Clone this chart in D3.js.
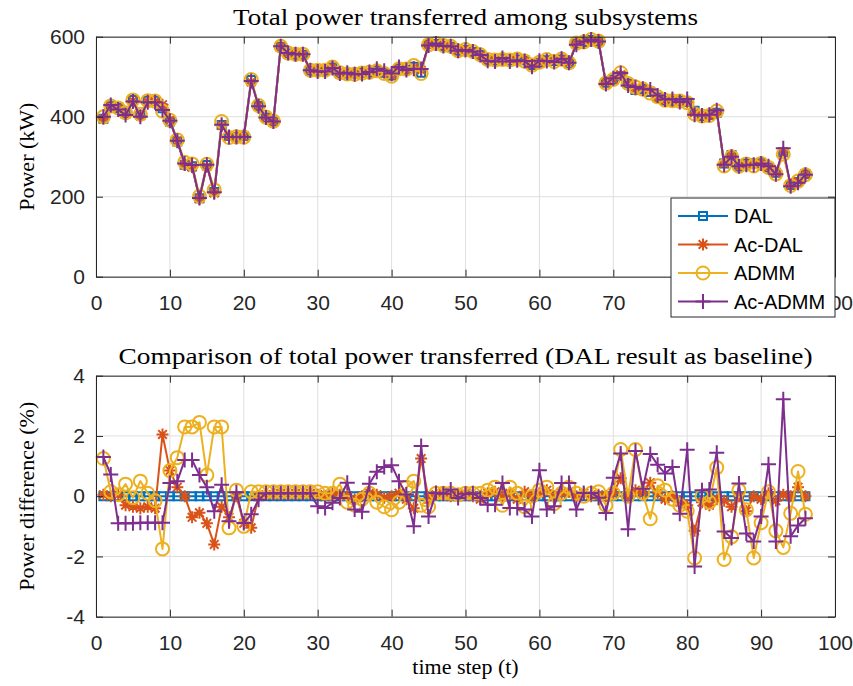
<!DOCTYPE html>
<html>
<head>
<meta charset="utf-8">
<script src="https://cdn.jsdelivr.net/npm/d3@7"></script>
<style>
  body { margin: 0; background: #fff; }
  svg { display: block; }
</style>
</head>
<body>
<div id="root"><svg width="853" height="686"></svg></div>
<script>
const timeSteps = d3.range(1, 97);

const seriesNames = ['DAL', 'Ac-DAL', 'ADMM', 'Ac-ADMM'];
const xTicks = [0, 10, 20, 30, 40, 50, 60, 70, 80, 90, 100];
const powerTicks = [0, 200, 400, 600];
const diffTicks = [-4, -2, 0, 2, 4];

// total power transferred (kW)
const powerDAL = [395, 426, 422, 408, 442, 404, 440, 440, 421, 388, 338, 280, 276, 196, 279, 212, 379, 352, 349, 352,
  492, 427, 398, 388, 575, 558, 555, 555, 515, 515, 515, 523, 508, 508, 508, 510, 510, 516, 510, 503,
  521, 517, 525, 510, 582, 582, 577, 575, 565, 567, 562, 554, 542, 540, 545, 540, 543, 541, 529, 535,
  541, 539, 543, 533, 583, 587, 592, 588, 485, 493, 502, 483, 467, 469, 462, 448, 440, 440, 440, 437,
  415, 402, 404, 410, 283, 304, 275, 283, 283, 285, 273, 260, 311, 229, 237, 257];
const powerAcDAL = [395, 426, 422, 407, 440, 402, 438, 438, 430, 391, 339, 280, 274, 195, 276, 209, 378, 350, 349, 349,
  487, 427, 398, 388, 576, 558, 556, 555, 516, 515, 515, 524, 508, 508, 507, 510, 511, 516, 510, 503,
  522, 516, 523, 516, 581, 582, 578, 575, 565, 568, 562, 553, 543, 541, 545, 541, 542, 542, 529, 536,
  542, 539, 544, 534, 583, 588, 592, 588, 485, 493, 505, 483, 468, 469, 464, 448, 440, 440, 439, 436,
  410, 401, 403, 410, 283, 303, 275, 282, 283, 285, 273, 260, 311, 229, 238, 257];
const powerADMM = [400, 427, 422, 410, 442, 406, 440, 439, 414, 391, 342, 286, 282, 201, 281, 217, 388, 348, 350, 349,
  493, 428, 399, 389, 576, 559, 556, 556, 516, 516, 516, 524, 510, 507, 506, 509, 511, 515, 508, 501,
  520, 519, 528, 508, 580, 583, 578, 576, 565, 568, 563, 555, 543, 542, 543, 542, 544, 539, 529, 536,
  543, 538, 544, 535, 584, 587, 593, 589, 484, 493, 510, 483, 474, 469, 459, 450, 441, 440, 439, 435,
  407, 402, 403, 414, 277, 300, 276, 282, 277, 283, 273, 257, 306, 228, 239, 255];
const powerAcADMM = [400, 429, 418, 404, 438, 400, 436, 436, 417, 390, 340, 283, 279, 197, 280, 211, 380, 349, 349, 349,
  489, 426, 398, 388, 576, 559, 556, 556, 516, 513, 513, 522, 508, 510, 506, 507, 512, 520, 515, 508,
  524, 517, 520, 519, 578, 583, 577, 576, 565, 567, 563, 554, 540, 538, 547, 538, 541, 539, 525, 540,
  539, 537, 545, 535, 580, 588, 593, 588, 482, 496, 509, 478, 474, 470, 468, 453, 443, 444, 437, 444,
  405, 403, 405, 416, 280, 300, 276, 280, 279, 283, 276, 256, 321, 226, 235, 255];

// power difference against DAL (%)
const diffDAL = [0, 0, 0, 0, 0, 0, 0, 0, 0, 0, 0, 0, 0, 0, 0, 0, 0, 0, 0, 0,
  0, 0, 0, 0, 0, 0, 0, 0, 0, 0, 0, 0, 0, 0, 0, 0, 0, 0, 0, 0,
  0, 0, 0, 0, 0, 0, 0, 0, 0, 0, 0, 0, 0, 0, 0, 0, 0, 0, 0, 0,
  0, 0, 0, 0, 0, 0, 0, 0, 0, 0, 0, 0, 0, 0, 0, 0, 0, 0, 0, 0,
  0, 0, 0, 0, 0, 0, 0, 0, 0, 0, 0, 0, 0, 0, 0, 0];
const diffAcDAL = [0.05, 0, 0.05, -0.3, -0.35, -0.4, -0.35, -0.4, 2.05, 0.85, 0.3, 0, -0.7, -0.55, -0.9, -1.6, -0.35, -0.7, 0, -0.9,
  -1.05, 0, 0.05, 0.05, 0.1, 0.05, 0.1, 0.05, 0.1, 0.05, 0, 0.1, 0.05, 0, -0.1, 0, 0.1, 0.05, -0.05, 0,
  0.1, -0.1, -0.4, 1.25, -0.1, 0.05, 0.1, 0, 0.05, 0.1, 0, -0.1, 0.1, 0.15, 0, 0.1, -0.1, 0.15, 0, 0.1,
  0.2, 0, 0.1, 0.15, 0, 0.1, 0, 0.05, 0, 0.1, 0.6, 0, 0.2, 0.1, 0.45, 0.1, -0.1, 0, -0.2, -0.3,
  -1.15, -0.2, -0.3, -0.1, -0.15, -0.35, 0, -0.5, 0, -0.1, 0.1, -0.15, 0.05, 0, 0.3, 0];
const diffADMM = [1.25, 0.15, 0.05, 0.4, -0.05, 0.5, 0.1, -0.15, -1.75, 0.85, 1.28, 2.3, 2.3, 2.45, 0.7, 2.3, 2.3, -1.05, 0.2, -1.0,
  0.15, 0.15, 0.15, 0.15, 0.15, 0.15, 0.15, 0.15, 0.15, 0.15, 0.1, 0.1, 0.4, -0.2, -0.3, -0.1, 0.1, -0.2, -0.35, -0.45,
  -0.2, 0.3, 0.5, -0.3, -0.35, 0.1, 0.1, 0.1, 0.05, 0.1, 0.1, 0.1, 0.2, 0.3, -0.3, 0.3, 0.1, -0.35, 0, 0.2,
  0.3, -0.25, 0.1, 0.3, 0.1, 0, 0.1, 0.15, -0.3, 0.1, 1.55, 0, 1.55, 0.1, -0.75, 0.35, 0.2, -0.1, -0.3, -0.5,
  -2.05, 0, -0.2, 0.95, -2.1, -1.35, 0.2, -0.45, -2.05, -0.88, 0.15, -1.15, -1.7, -0.57, 0.82, -0.6];
const diffAcADMM = [1.3, 0.72, -0.9, -0.9, -0.9, -0.88, -0.88, -0.88, -0.88, 0.44, 0.5, 1.2, 1.2, 0.7, 0.3, -0.5, 0.38, -0.83, 0.13, -0.89,
  -0.6, -0.12, 0.1, 0.1, 0.1, 0.1, 0.1, 0.1, 0.1, -0.33, -0.39, -0.22, -0.06, 0.45, -0.44, -0.52, 0.41, 0.81, 0.97, 1.03,
  0.5, 0.06, -1.0, 1.67, -0.67, 0.11, 0.08, 0.22, -0.06, 0.08, 0.1, -0.06, -0.28, -0.28, 0.44, -0.39, -0.39, -0.44, -0.67, 0.86,
  -0.44, -0.33, 0.44, 0.44, -0.44, 0.11, 0.11, -0.05, -0.56, 0.61, 1.42, -1.1, 1.5, 0.25, 1.4, 1.04, 0.75, 0.97, -0.58, 1.54,
  -2.33, 0.2, 0.22, 1.44, -1.17, -1.39, 0.42, -1.24, -1.5, -0.67, 1.06, -1.5, 3.22, -1.33, -0.97, -0.73];

const colors = ['#0072bd', '#d95319', '#edb120', '#7e2f8e'];
const textColor = '#262626';
const serif = '"Liberation Serif", "DejaVu Serif", serif';
const sans = '"Liberation Sans", Arial, sans-serif';

// marker shapes, one per series
const markerPaths = [
  'M-4,-4H4V4H-4Z',
  'M-6,0H6M0,-6V6M-4.3,-4.3L4.3,4.3M-4.3,4.3L4.3,-4.3',
  'M6.5,0A6.5,6.5 0 1,1 -6.5,0A6.5,6.5 0 1,1 6.5,0Z',
  'M-7.5,0H7.5M0,-7.5V7.5'
];

const svg = d3.select('#root svg');
const plotLeft = 96;
const plotRight = 835;
const xScale = d3.scaleLinear().domain([0, 100]).range([plotLeft, plotRight]);

function drawPanel(opts) {
  const yScale = d3.scaleLinear().domain(opts.domain).range([opts.bottom, opts.top]);
  const g = svg.append('g');

  // grid
  g.append('g').selectAll('line').data(xTicks).enter().append('line')
    .attr('x1', d => xScale(d)).attr('x2', d => xScale(d))
    .attr('y1', opts.top).attr('y2', opts.bottom)
    .attr('stroke', '#dfdfdf').attr('stroke-width', 1);
  g.append('g').selectAll('line').data(opts.ticks).enter().append('line')
    .attr('x1', plotLeft).attr('x2', plotRight)
    .attr('y1', d => yScale(d)).attr('y2', d => yScale(d))
    .attr('stroke', '#dfdfdf').attr('stroke-width', 1);

  // series
  const line = d3.line().x((d, i) => xScale(timeSteps[i])).y(d => yScale(d));
  opts.series.forEach((values, s) => {
    const sg = g.append('g');
    sg.append('path')
      .attr('d', line(values))
      .attr('fill', 'none')
      .attr('stroke', colors[s])
      .attr('stroke-width', 2)
      .attr('stroke-linejoin', 'round');
    sg.selectAll('path.mk').data(values).enter().append('path')
      .attr('class', 'mk')
      .attr('transform', (d, i) => `translate(${xScale(timeSteps[i])},${yScale(d)})`)
      .attr('d', markerPaths[s])
      .attr('fill', 'none')
      .attr('stroke', colors[s])
      .attr('stroke-width', 2);
  });

  // axes (ticks pointing in, MATLAB box style)
  const xFmt = d => (opts.hiddenX.includes(d) ? '' : String(d));
  const axBottom = d3.axisBottom(xScale).tickValues(xTicks).tickFormat(xFmt)
    .tickSizeInner(-7).tickSizeOuter(0).tickPadding(18);
  const axTop = d3.axisTop(xScale).tickValues(xTicks).tickSizeInner(-7).tickSizeOuter(0).tickFormat('');
  const axLeft = d3.axisLeft(yScale).tickValues(opts.ticks).tickFormat(d => String(d))
    .tickSizeInner(-7).tickSizeOuter(0).tickPadding(11);
  const axRight = d3.axisRight(yScale).tickValues(opts.ticks).tickSizeInner(-7).tickSizeOuter(0).tickFormat('');

  [[axBottom, `translate(0,${opts.bottom})`], [axTop, `translate(0,${opts.top})`],
   [axLeft, `translate(${plotLeft},0)`], [axRight, `translate(${plotRight},0)`]].forEach(([ax, tr]) => {
    const a = g.append('g').attr('transform', tr).call(ax);
    a.selectAll('path, line').attr('stroke', textColor);
    a.selectAll('text').attr('fill', textColor).style('font-family', sans).style('font-size', '21px');
  });

  // title
  g.append('text')
    .attr('x', (plotLeft + plotRight) / 2).attr('y', opts.top - 12)
    .attr('text-anchor', 'middle')
    .attr('fill', '#000')
    .style('font-family', serif).style('font-size', '23px')
    .attr('textLength', opts.titleWidth).attr('lengthAdjust', 'spacingAndGlyphs')
    .text(opts.title);

  // y label
  g.append('text')
    .attr('transform', `translate(34,${(opts.top + opts.bottom) / 2}) rotate(-90)`)
    .attr('text-anchor', 'middle')
    .attr('fill', '#000')
    .style('font-family', serif).style('font-size', '22px')
    .text(opts.ylabel);

  return g;
}

// x tick labels 80 and 90 of the upper panel sit fully behind the legend
drawPanel({
  top: 36.7, bottom: 276.7, domain: [0, 600], ticks: powerTicks,
  series: [powerDAL, powerAcDAL, powerADMM, powerAcADMM],
  title: 'Total power transferred among subsystems', titleWidth: 465,
  ylabel: 'Power (kW)', hiddenX: [80, 90]
});

drawPanel({
  top: 375.7, bottom: 616.7, domain: [-4, 4], ticks: diffTicks,
  series: [diffDAL, diffAcDAL, diffADMM, diffAcADMM],
  title: 'Comparison of total power transferred (DAL result as baseline)', titleWidth: 694,
  ylabel: 'Power difference (%)', hiddenX: []
});

// x label
svg.append('text')
  .attr('x', (plotLeft + plotRight) / 2).attr('y', 674)
  .attr('text-anchor', 'middle')
  .attr('fill', '#000')
  .style('font-family', serif).style('font-size', '22px')
  .text('time step (t)');

// legend
const legend = svg.append('g').attr('transform', 'translate(671,198)');
legend.append('rect')
  .attr('width', 164).attr('height', 119)
  .attr('fill', '#fff').attr('stroke', textColor).attr('stroke-width', 1);
seriesNames.forEach((name, s) => {
  const row = legend.append('g').attr('transform', `translate(0,${18 + s * 28.5})`);
  row.append('line').attr('x1', 7).attr('x2', 57)
    .attr('stroke', colors[s]).attr('stroke-width', 2);
  row.append('path').attr('transform', 'translate(32,0)').attr('d', markerPaths[s])
    .attr('fill', 'none').attr('stroke', colors[s]).attr('stroke-width', 2);
  row.append('text').attr('x', 63).attr('dy', '0.35em')
    .attr('fill', '#000')
    .style('font-family', sans).style('font-size', '20px')
    .text(name);
});
</script>
</body>
</html>
